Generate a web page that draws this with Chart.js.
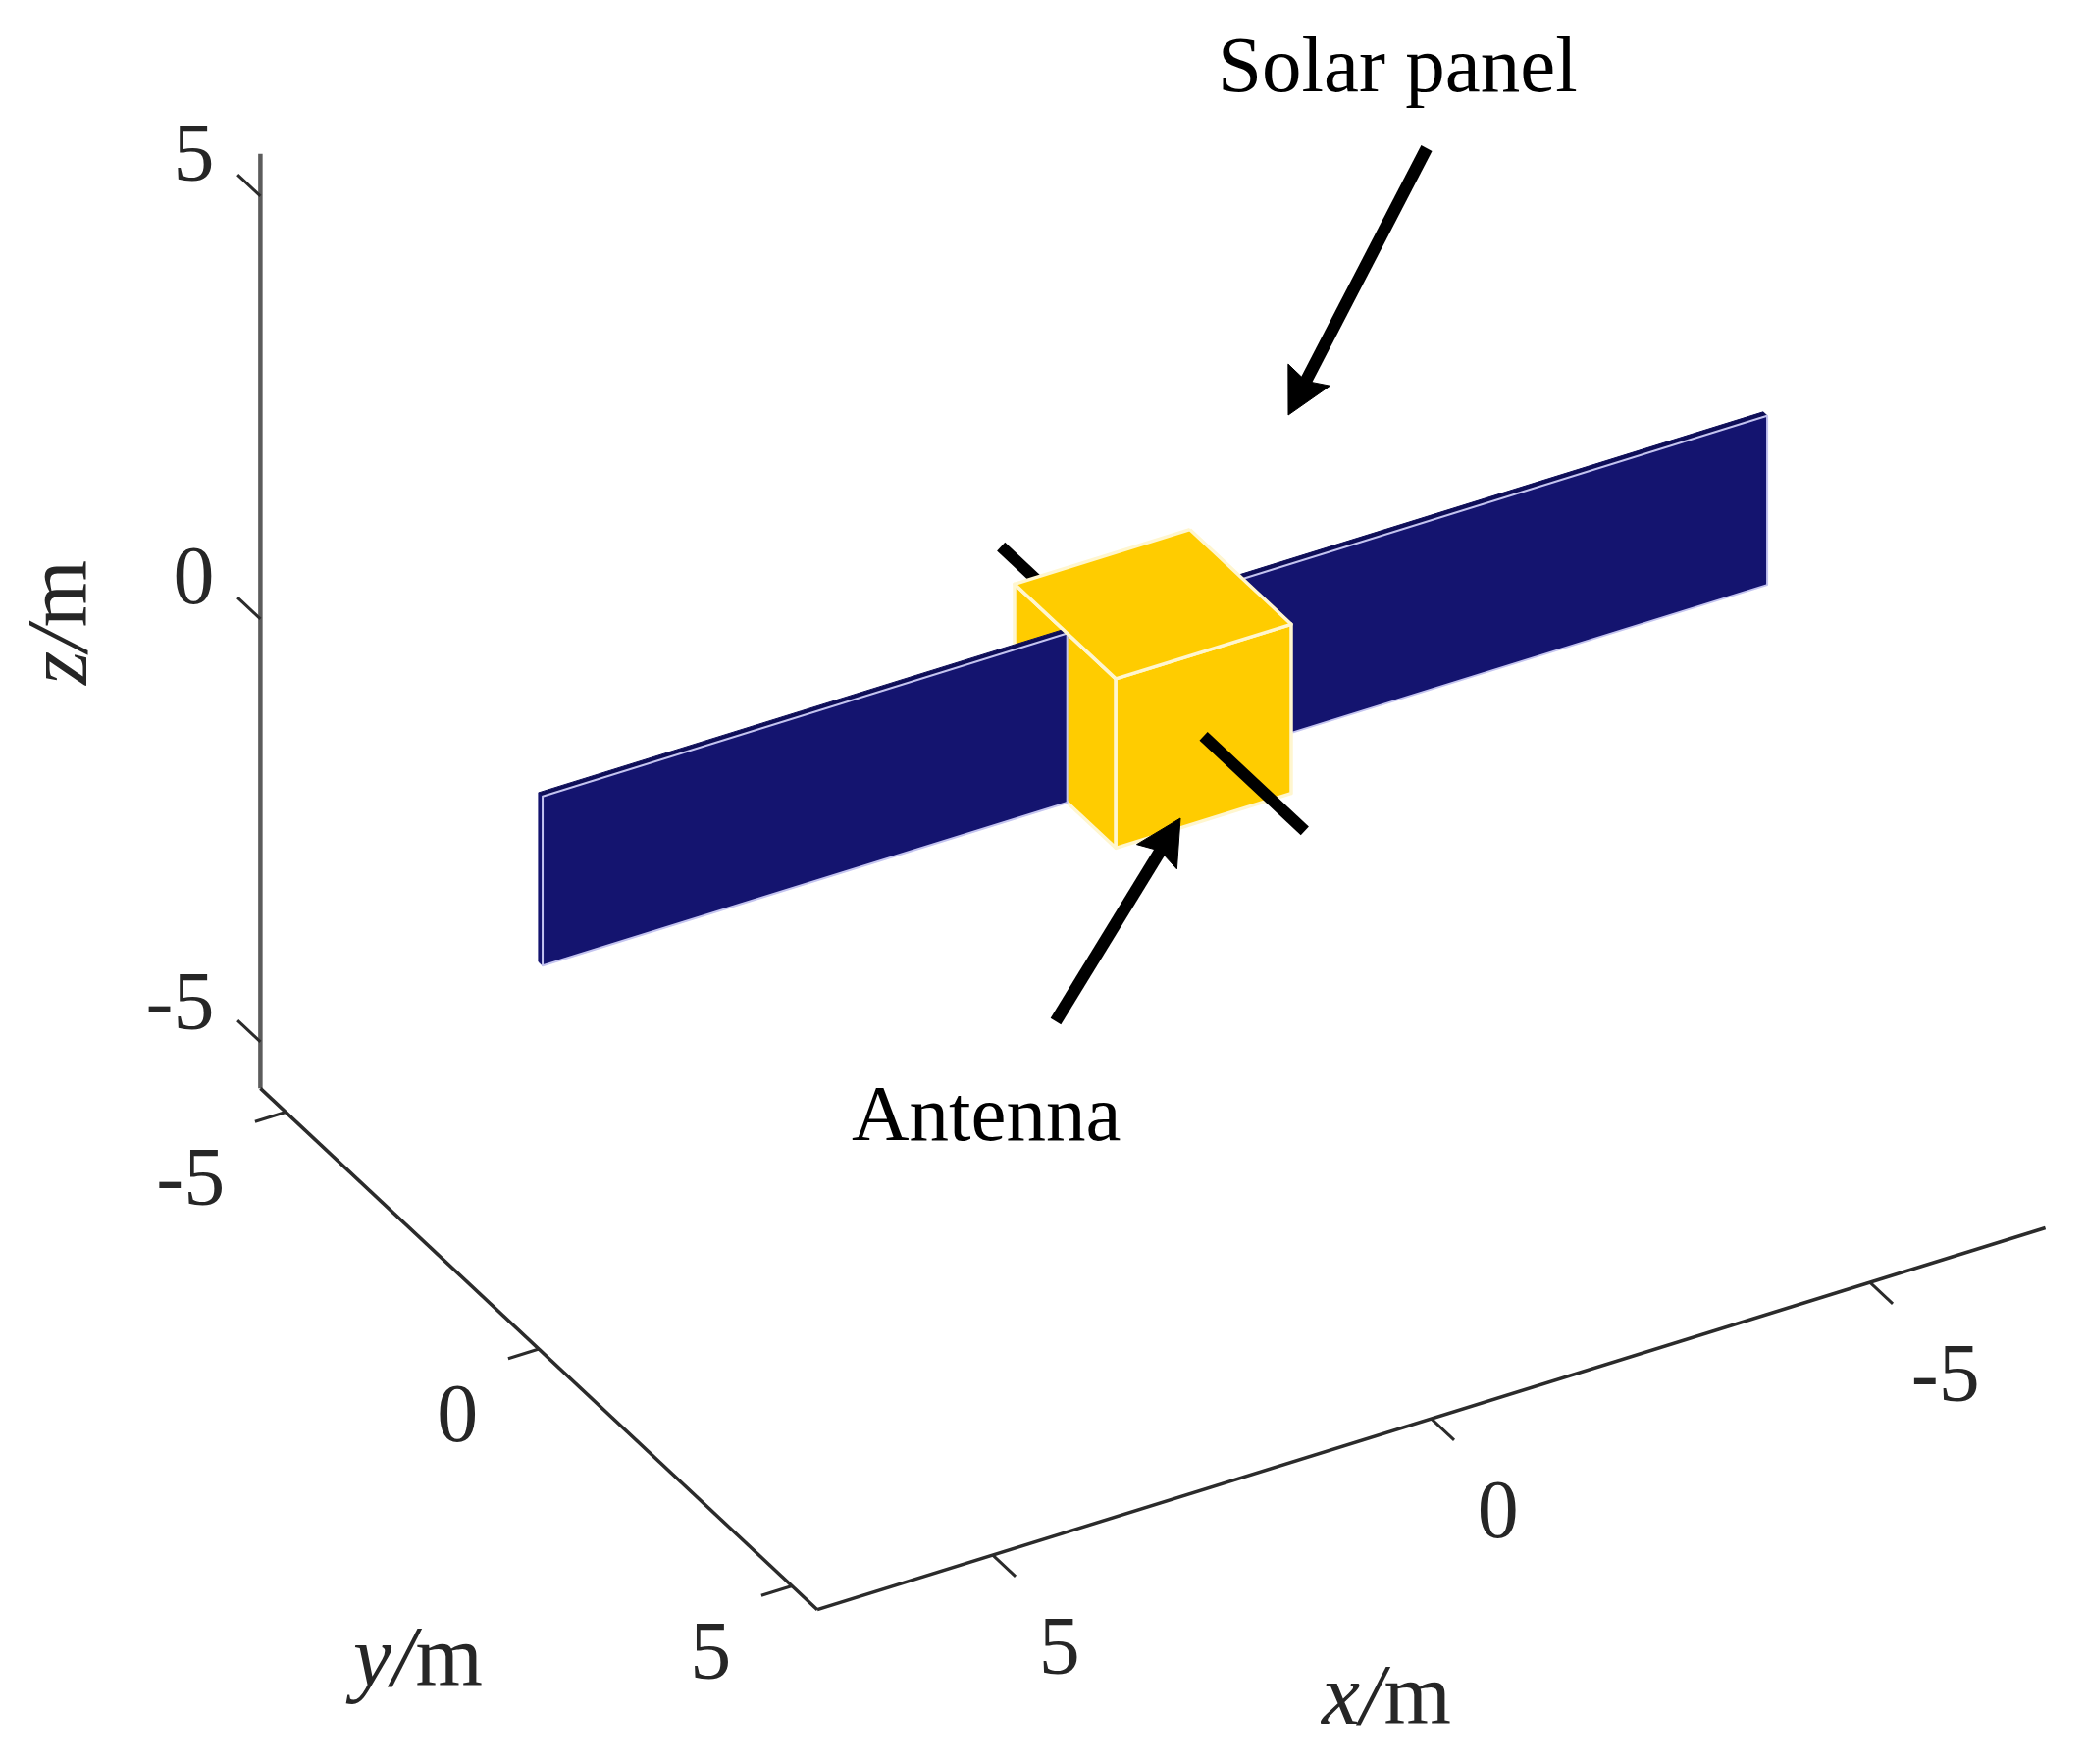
<!DOCTYPE html>
<html>
<head>
<meta charset="utf-8">
<title>Satellite model</title>
<script src="https://cdn.jsdelivr.net/npm/chart.js@4"></script>
<style>
  html, body { margin: 0; padding: 0; background: #fff; }
  canvas { display: block; }
</style>
</head>
<body>
<canvas id="chart" width="2126" height="1798"></canvas>
<script>
// axis box and ticks, metres
const xLimits = [-7, 7];
const yLimits = [-5.5, 5.5];
const zLimits = [-5.55, 5.5];
const xTicks = [5, 0, -5];
const yTicks = [-5, 0, 5];
const zTicks = [5, 0, -5];

// satellite parts, metres
const bodyX = [-1, 1];
const bodyY = [-1, 1];
const bodyZ = [-1, 1];
const panelLeftX = [1, 6.98];
const panelRightX = [-6.98, -1];
const panelY = [-0.04, 0.04];
const panelZ = [-1, 1];
const antennaBackY = [-3, -1];
const antennaFrontY = [1, 3];

// oblique view of the box on the page plane
const origin = [1175, 702];
const xDir = [-89.4, 27.8];
const yDir = [51.6, 48.3];
const zDir = [0, -86.2];

const project = (x, y, z) => ({
  x: origin[0] + x * xDir[0] + y * yDir[0] + z * zDir[0],
  y: origin[1] + x * xDir[1] + y * yDir[1] + z * zDir[1],
});

const NAVY = "#14146f";
const GOLD = "#ffcc00";
const EDGE = "#c4c4f0";
const AXIS = "#2b2b2b";
const BODY_EDGE = "#fff6cf";

const line = (points, color, width) => ({
  data: points,
  showLine: true,
  fill: false,
  borderColor: color,
  borderWidth: width,
  pointRadius: 0,
});

const face = (points, color, edge, width) => ({
  data: [...points, points[0]],
  showLine: true,
  fill: "shape",
  backgroundColor: color,
  borderColor: edge,
  borderWidth: width,
  borderJoinStyle: "round",
  pointRadius: 0,
});

const panel = ([x0, x1]) => {
  const [yb, yf] = panelY;
  const [z0, z1] = panelZ;
  return [
    face([project(x0, yb, z1), project(x1, yb, z1), project(x1, yf, z1), project(x0, yf, z1)], "#0e0e58", "#0e0e58", 1),
    face([project(x1, yb, z0), project(x1, yb, z1), project(x1, yf, z1), project(x1, yf, z0)], NAVY, NAVY, 1),
    face([project(x0, yf, z0), project(x1, yf, z0), project(x1, yf, z1), project(x0, yf, z1)], NAVY, EDGE, 2),
  ];
};

const [bx0, bx1] = bodyX;
const [by0, by1] = bodyY;
const [bz0, bz1] = bodyZ;

const axisLines = [
  line([project(xLimits[1], yLimits[0], zLimits[0]), project(xLimits[1], yLimits[0], zLimits[1])], "#5c5c5c", 4.5),
  line([project(xLimits[1], yLimits[0], zLimits[0]), project(xLimits[1], yLimits[1], zLimits[0])], AXIS, 3.5),
  line([project(xLimits[1], yLimits[1], zLimits[0]), project(xLimits[0], yLimits[1], zLimits[0])], AXIS, 3.5),
];

const tickLines = [
  ...zTicks.map((t) => line([project(xLimits[1], yLimits[0], t), project(xLimits[1], yLimits[0] - 0.45, t)], AXIS, 3)),
  ...yTicks.map((t) => line([project(xLimits[1], t, zLimits[0]), project(xLimits[1] + 0.35, t, zLimits[0])], AXIS, 3)),
  ...xTicks.map((t) => line([project(t, yLimits[1], zLimits[0]), project(t, yLimits[1] + 0.45, zLimits[0])], AXIS, 3)),
];

// callout arrows on the page plane: tail, then tip
const solarArrow = [{ x: 1454, y: 151 }, { x: 1313, y: 423 }];
const antennaArrow = [{ x: 1076, y: 1041 }, { x: 1203, y: 834 }];

const arrow = ([tail, tip]) => {
  const len = Math.hypot(tip.x - tail.x, tip.y - tail.y);
  const ux = (tip.x - tail.x) / len;
  const uy = (tip.y - tail.y) / len;
  const at = (back, side) => ({
    x: tip.x - ux * back - uy * side,
    y: tip.y - uy * back + ux * side,
  });
  return [
    line([tail, at(30, 0)], "#000", 12.5),
    face([tip, at(46, 24), at(39, 0), at(46, -24)], "#000", "#000", 1),
  ];
};

// painted back to front
const layers = [
  ...axisLines,
  ...tickLines,
  ...panel(panelRightX),
  line([project(0, antennaBackY[0], 0), project(0, antennaBackY[1], 0)], "#000", 12),
  face([project(bx1, by0, bz0), project(bx1, by1, bz0), project(bx1, by1, bz1), project(bx1, by0, bz1)], GOLD, BODY_EDGE, 3.5),
  ...panel(panelLeftX),
  face([project(bx0, by1, bz0), project(bx1, by1, bz0), project(bx1, by1, bz1), project(bx0, by1, bz1)], GOLD, BODY_EDGE, 3.5),
  face([project(bx0, by0, bz1), project(bx1, by0, bz1), project(bx1, by1, bz1), project(bx0, by1, bz1)], GOLD, BODY_EDGE, 3.5),
  line([project(0, antennaFrontY[0], 0), project(0, antennaFrontY[1], 0)], "#000", 12),
  ...arrow(solarArrow),
  ...arrow(antennaArrow),
];

const SERIF = '"Liberation Serif", "Times New Roman", serif';

const textPlugin = {
  id: "sceneText",
  afterDraw(chart) {
    const { ctx, scales } = chart;
    const px = (p) => [scales.x.getPixelForValue(p.x), scales.y.getPixelForValue(p.y)];

    ctx.save();
    ctx.textBaseline = "alphabetic";

    // tick labels
    ctx.font = "84px " + SERIF;
    ctx.fillStyle = "#262626";
    ctx.textAlign = "right";
    zTicks.forEach((t) => {
      const [a, b] = px(project(xLimits[1], yLimits[0], t));
      ctx.fillText(String(t), a - 47, b - (t < 0 ? 13 : 16));
    });
    yTicks.forEach((t) => {
      const [a, b] = px(project(xLimits[1], t, zLimits[0]));
      ctx.fillText(String(t), a - 62, b + 94);
    });
    xTicks.forEach((t) => {
      const [a, b] = px(project(t, yLimits[1], zLimits[0]));
      ctx.fillText(String(t), a + (t < 0 ? 112 : 89), b + 121);
    });

    // axis titles, italic letter and slash then upright unit
    const title = (head, unit, x, y) => {
      ctx.textAlign = "left";
      ctx.font = "italic 88px " + SERIF;
      ctx.fillText(head, x, y);
      const w = ctx.measureText(head).width;
      ctx.font = "88px " + SERIF;
      ctx.fillText(unit, x + w, y);
    };
    title("y/", "m", 360, 1718);
    title("x/", "m", 1347, 1757);
    ctx.save();
    ctx.translate(88, 698);
    ctx.rotate(-Math.PI / 2);
    title("z/", "m", 0, 0);
    ctx.restore();

    // callouts
    ctx.font = "81px " + SERIF;
    ctx.fillStyle = "#000";
    ctx.textAlign = "left";
    ctx.fillText("Solar panel", 1241, 93);
    ctx.fillText("Antenna", 868, 1162);
    ctx.restore();
  },
};

new Chart(document.getElementById("chart").getContext("2d"), {
  type: "scatter",
  data: {
    datasets: layers.map((d, i) => ({ ...d, order: layers.length - i })),
  },
  options: {
    responsive: false,
    animation: false,
    devicePixelRatio: 1,
    layout: { padding: 0 },
    plugins: {
      legend: { display: false },
      tooltip: { enabled: false },
    },
    scales: {
      x: { type: "linear", min: 0, max: 2126, display: false },
      y: { type: "linear", min: 0, max: 1798, reverse: true, display: false },
    },
  },
  plugins: [textPlugin],
});
</script>
</body>
</html>
